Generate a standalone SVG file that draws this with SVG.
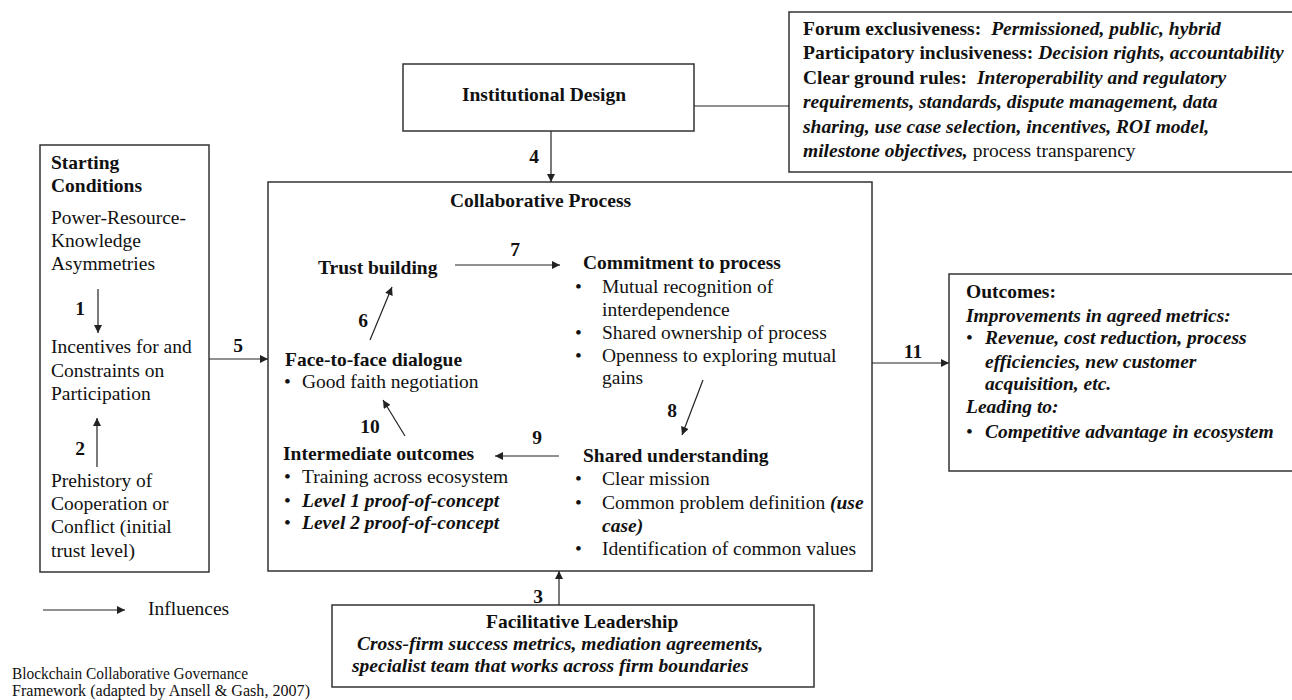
<svg xmlns="http://www.w3.org/2000/svg" width="1292" height="700" viewBox="0 0 1292 700">
<defs>
<marker id="ah" viewBox="0 0 10 10" refX="10" refY="5" markerWidth="9" markerHeight="8" markerUnits="userSpaceOnUse" orient="auto">
<path d="M0,0 L10,5 L0,10 z" fill="#222"/>
</marker>
<style>
text{font-family:"Liberation Serif","Times New Roman",serif;font-size:19.5px;fill:#111}
.b{font-weight:bold}
.i{font-style:italic}
.bi{font-weight:bold;font-style:italic}
.n{font-weight:bold;text-anchor:middle}
.cap{font-size:16px}
.box{fill:#fff;stroke:#333;stroke-width:1.5}
.c{stroke:#222;stroke-width:1.2;fill:none;marker-end:url(#ah)}
.l{stroke:#222;stroke-width:1.2;fill:none}
</style>
</defs>
<rect width="1292" height="700" fill="#fff"/>

<g id="design-details">
<rect class="box" x="789" y="12" width="520" height="160"/>
<text x="803" y="34.5"><tspan class="b">Forum exclusiveness:</tspan><tspan class="bi" dx="10">Permissioned, public, hybrid</tspan></text>
<text x="803" y="59"><tspan class="b">Participatory inclusiveness:</tspan><tspan class="bi" dx="5">Decision rights, accountability</tspan></text>
<text x="803" y="83.5"><tspan class="b">Clear ground rules:</tspan><tspan class="bi" dx="10">Interoperability and regulatory</tspan></text>
<text x="803" y="108" class="bi">requirements, standards, dispute management, data</text>
<text x="803" y="132.5" class="bi">sharing, use case selection, incentives, ROI model,</text>
<text x="803" y="157"><tspan class="bi">milestone objectives,</tspan><tspan dx="5">process transparency</tspan></text>
</g>

<g id="institutional-design">
<rect class="box" x="403" y="64" width="291" height="67"/>
<text x="544" y="101" class="b" text-anchor="middle">Institutional Design</text>
</g>

<g id="starting-conditions">
<rect class="box" x="40" y="145" width="169" height="427"/>
<text x="51" y="169" class="b">Starting</text>
<text x="51" y="192" class="b">Conditions</text>
<text x="51" y="224">Power-Resource-</text>
<text x="51" y="247">Knowledge</text>
<text x="51" y="270">Asymmetries</text>
<text x="51" y="353">Incentives for and</text>
<text x="51" y="377">Constraints on</text>
<text x="51" y="400">Participation</text>
<text x="51" y="487">Prehistory of</text>
<text x="51" y="510">Cooperation or</text>
<text x="51" y="533">Conflict (initial</text>
<text x="51" y="557">trust level)</text>
</g>

<g id="collaborative-process">
<rect class="box" x="268" y="182" width="604" height="389"/>
<text x="450" y="207" class="b">Collaborative Process</text>
</g>

<g id="trust-building">
<text x="318" y="274" class="b">Trust building</text>
</g>

<g id="face-to-face">
<text x="285" y="366" class="b">Face-to-face dialogue</text>
<text x="284" y="388">•</text><text x="302" y="388">Good faith negotiation</text>
</g>

<g id="intermediate-outcomes">
<text x="283" y="460" class="b">Intermediate outcomes</text>
<text x="284" y="483">•</text><text x="302" y="483">Training across ecosystem</text>
<text x="284" y="507">•</text><text x="302" y="507" class="bi">Level 1 proof-of-concept</text>
<text x="284" y="529">•</text><text x="302" y="529" class="bi">Level 2 proof-of-concept</text>
</g>

<g id="commitment">
<text x="583" y="269" class="b">Commitment to process</text>
<text x="575" y="293">•</text><text x="602" y="293">Mutual recognition of</text>
<text x="602" y="316">interdependence</text>
<text x="575" y="339">•</text><text x="602" y="339">Shared ownership of process</text>
<text x="575" y="362">•</text><text x="602" y="362">Openness to exploring mutual</text>
<text x="602" y="384">gains</text>
</g>

<g id="shared-understanding">
<text x="583" y="462" class="b">Shared understanding</text>
<text x="575" y="485">•</text><text x="602" y="485">Clear mission</text>
<text x="575" y="509">•</text><text x="602" y="509">Common problem definition <tspan class="bi">(use</tspan></text>
<text x="602" y="532" class="bi">case)</text>
<text x="575" y="555">•</text><text x="602" y="555">Identification of common values</text>
</g>

<g id="outcomes">
<rect class="box" x="949" y="274" width="360" height="197"/>
<text x="966" y="298" class="b">Outcomes:</text>
<text x="966" y="322" class="bi">Improvements in agreed metrics:</text>
<text x="966" y="344">•</text><text x="985" y="344" class="bi">Revenue, cost reduction, process</text>
<text x="985" y="368" class="bi">efficiencies, new customer</text>
<text x="985" y="390" class="bi">acquisition, etc.</text>
<text x="966" y="413" class="bi">Leading to:</text>
<text x="966" y="438">•</text><text x="985" y="438" class="bi">Competitive advantage in ecosystem</text>
</g>

<g id="facilitative-leadership">
<rect class="box" x="332" y="605" width="482" height="82"/>
<text x="486" y="628" class="b">Facilitative Leadership</text>
<text x="357" y="650" class="bi">Cross-firm success metrics, mediation agreements,</text>
<text x="352" y="672" class="bi">specialist team that works across firm boundaries</text>
</g>

<g id="legend">
<line class="c" x1="43" y1="610" x2="125" y2="610"/>
<text x="148" y="615">Influences</text>
<text x="12" y="679" class="cap" textLength="236" lengthAdjust="spacingAndGlyphs">Blockchain Collaborative Governance</text>
<text x="12" y="696" class="cap" textLength="298" lengthAdjust="spacingAndGlyphs">Framework (adapted by Ansell &amp; Gash, 2007)</text>
</g>

<g id="connectors">
<line class="l" x1="694" y1="106" x2="789" y2="106"/>
<line class="c" x1="551" y1="131" x2="551" y2="182"/>
<text x="534" y="163" class="n">4</text>
<line class="c" x1="98" y1="289" x2="98" y2="333"/>
<text x="80" y="315" class="n">1</text>
<line class="c" x1="97" y1="467" x2="97" y2="418"/>
<text x="80" y="455" class="n">2</text>
<line class="c" x1="209" y1="359" x2="268" y2="359"/>
<text x="238" y="352" class="n">5</text>
<line class="c" x1="370" y1="340" x2="392" y2="287"/>
<text x="363" y="327" class="n">6</text>
<line class="c" x1="455" y1="265" x2="560" y2="265"/>
<text x="515" y="256" class="n">7</text>
<line class="c" x1="703" y1="380" x2="682" y2="435"/>
<text x="672" y="417" class="n">8</text>
<line class="c" x1="559" y1="456" x2="495" y2="456"/>
<text x="537" y="444" class="n">9</text>
<line class="c" x1="405" y1="436" x2="383" y2="400"/>
<text x="370" y="433" class="n">10</text>
<line class="c" x1="872" y1="363" x2="949" y2="363"/>
<text x="913" y="358" class="n">11</text>
<line class="c" x1="559" y1="605" x2="559" y2="571"/>
<text x="538" y="603" class="n">3</text>
</g>
</svg>
